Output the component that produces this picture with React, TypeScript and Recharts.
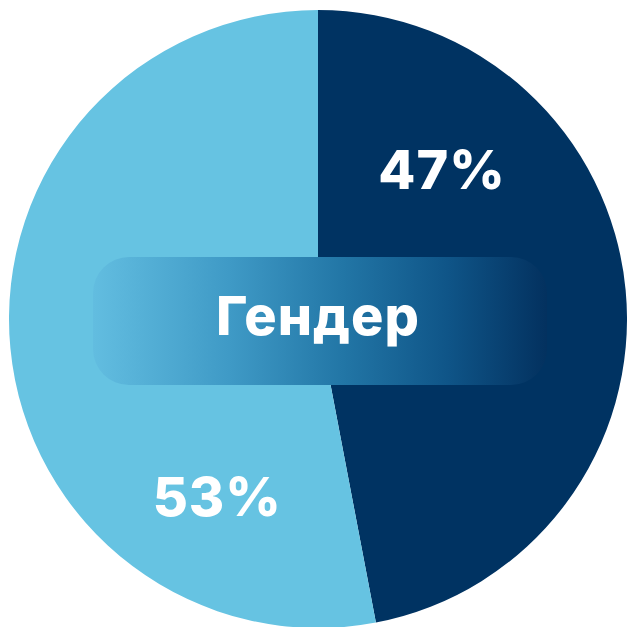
import { PieChart, Pie, Cell } from "recharts";

const genders = ["Мужчины", "Женщины"];
const shares = [47, 53];
const colors = ["#003362", "#66c3e2"];
const title = "Гендер";

const data = genders.map((name, i) => ({ name, value: shares[i] }));

const RAD = Math.PI / 180;
const FONT = "Inter, 'Open Sans', sans-serif";

// labels sit a bit counter-clockwise of each slice's middle
const renderLabel = (props: any) => {
    const { cx, cy, midAngle, outerRadius, index, value } = props;
    const shift = index === 0 ? 45 : 55;
    const r = outerRadius * (index === 0 ? 0.63 : 0.66);
    const a = (midAngle + shift) * RAD;
    const x = cx + r * Math.cos(a);
    const y = cy - r * Math.sin(a);
    return (
        <text
            x={x}
            y={y}
            fill="#ffffff"
            textAnchor="middle"
            dominantBaseline="central"
            style={{ fontFamily: FONT, fontWeight: 800, fontSize: 54, letterSpacing: 1 }}
        >
            {`${value}%`}
        </text>
    );
};

export default function App() {
    return (
        <div style={{ position: "absolute", left: 0, top: 0, width: 627, height: 627, background: "#fff" }}>
            <PieChart width={627} height={627} margin={{ top: 0, right: 0, bottom: 0, left: 0 }}>
                <Pie
                    data={data}
                    dataKey="value"
                    cx={318}
                    cy={319}
                    outerRadius={309}
                    startAngle={90}
                    endAngle={-270}
                    stroke="none"
                    label={renderLabel}
                    labelLine={false}
                    isAnimationActive={false}
                >
                    {data.map((d, i) => (
                        <Cell key={d.name} fill={colors[i]} />
                    ))}
                </Pie>
            </PieChart>
            {/* title band over the middle */}
            <div
                style={{
                    position: "absolute",
                    left: 93,
                    top: 257,
                    width: 454,
                    height: 128,
                    borderRadius: 36,
                    background: "linear-gradient(90deg, #62bde0 0%, #3f9ac6 30%, #2276a6 55%, #0f5588 78%, #03315f 100%)",
                    display: "flex",
                    alignItems: "center",
                    justifyContent: "center",
                    color: "#fff",
                    fontFamily: FONT,
                    fontWeight: 800,
                    fontSize: 54,
                    letterSpacing: 1,
                    lineHeight: 1,
                    paddingRight: 4,
                    paddingBottom: 10,
                    boxSizing: "border-box",
                }}
            >
                {title}
            </div>
        </div>
    );
}
